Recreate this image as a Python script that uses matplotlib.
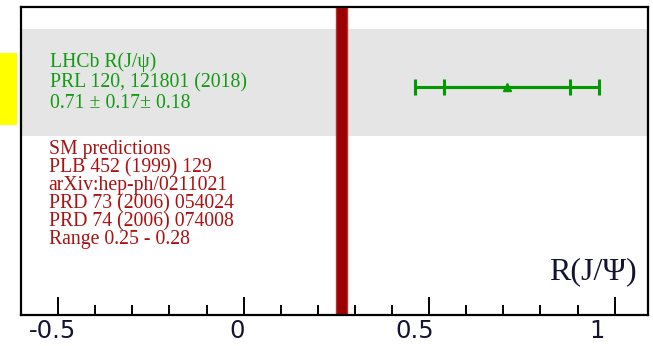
import numpy as np
import matplotlib
matplotlib.use("Agg")
import matplotlib.pyplot as plt
from matplotlib.patches import Rectangle
from matplotlib.ticker import MultipleLocator
from matplotlib.transforms import ScaledTranslation

# Measurement and prediction values
lhcb_value = 0.71
lhcb_stat = 0.17
lhcb_syst = 0.18
sm_range = [0.25, 0.28]

major_ticks = [-0.5, 0.0, 0.5, 1.0]
tick_labels = ["-0.5", "0", "0.5", "1"]

lhcb_lines = ["LHCb R(J/\u03c8)", "PRL 120, 121801 (2018)", "0.71 \u00b1 0.17\u00b1 0.18"]
sm_lines = ["SM predictions", "PLB 452 (1999) 129", "arXiv:hep-ph/0211021",
            "PRD 73 (2006) 054024", "PRD 74 (2006) 074008", "Range 0.25 - 0.28"]

plt.rcParams["font.family"] = ["Liberation Serif", "DejaVu Serif"]

W, H = 653, 346
fig = plt.figure(figsize=(W / 100, H / 100), dpi=100)
ax = fig.add_axes([21 / W, (H - 315) / H, 627 / W, 308 / H])

ax.set_xlim(-0.6, 1.09)
ax.set_ylim(0, 1)

green = "#009900"
red_band = "#990000"
text_red = "#aa1111"
text_green = "#129a12"
navy = "#141432"

# Shaded row for the measurement
ax.axhspan(0.582, 0.929, color="#e5e5e5", lw=0, zorder=0)

# SM prediction band
ax.axvspan(sm_range[0], sm_range[1], facecolor=red_band, edgecolor="#b83030",
           lw=1.0, zorder=2)

# Measurement with stat and total uncertainties
y_meas = 0.741
total = np.hypot(lhcb_stat, lhcb_syst)
ax.errorbar([lhcb_value], [y_meas], xerr=[[total], [total]], fmt="none",
            ecolor=green, elinewidth=2.2, capsize=6, capthick=2.2, zorder=3)
ax.errorbar([lhcb_value], [y_meas], xerr=[[lhcb_stat], [lhcb_stat]], fmt="^",
            color=green, ms=6, elinewidth=2.2, capsize=6, capthick=2.2, zorder=4)

# Text blocks
fs_text = 14.2
for i, line in enumerate(lhcb_lines):
    ax.text(0.046, 0.805 - i * 0.067, line, transform=ax.transAxes,
            color=text_green, fontsize=fs_text, va="baseline", ha="left")
for i, line in enumerate(sm_lines):
    ax.text(0.044, 0.522 - i * 0.0585, line, transform=ax.transAxes,
            color=text_red, fontsize=fs_text, va="baseline", ha="left")

ax.text(0.982, 0.117, "R(J/\u03a8)", transform=ax.transAxes, fontsize=23,
        ha="right", va="baseline", color=navy)

# Axes styling
ax.set_xticks(major_ticks)
ax.set_xticklabels(tick_labels, family="DejaVu Sans", color=navy)
ax.xaxis.set_minor_locator(MultipleLocator(0.1))
ax.tick_params(axis="x", which="major", direction="in", length=13, width=1.4,
               labelsize=17.5, pad=3, top=False)
ax.tick_params(axis="x", which="minor", direction="in", length=7, width=1.4, top=False)
ax.tick_params(axis="y", which="both", left=False, right=False, labelleft=False)
for s in ax.spines.values():
    s.set_linewidth(1.6)

# Small horizontal nudges of the tick labels (pixels)
label_shift_px = [-6, -6, -14, -18]
for lab, dx in zip(ax.get_xticklabels(), label_shift_px):
    lab.set_transform(lab.get_transform() + ScaledTranslation(dx / 100, 0, fig.dpi_scale_trans))

# Highlight marker at the left margin
fig.patches.append(Rectangle((0, (H - 125) / H), 17 / W, 72 / H,
                             transform=fig.transFigure, color="#ffff00", lw=0))

fig.savefig("out.png", dpi=100)
